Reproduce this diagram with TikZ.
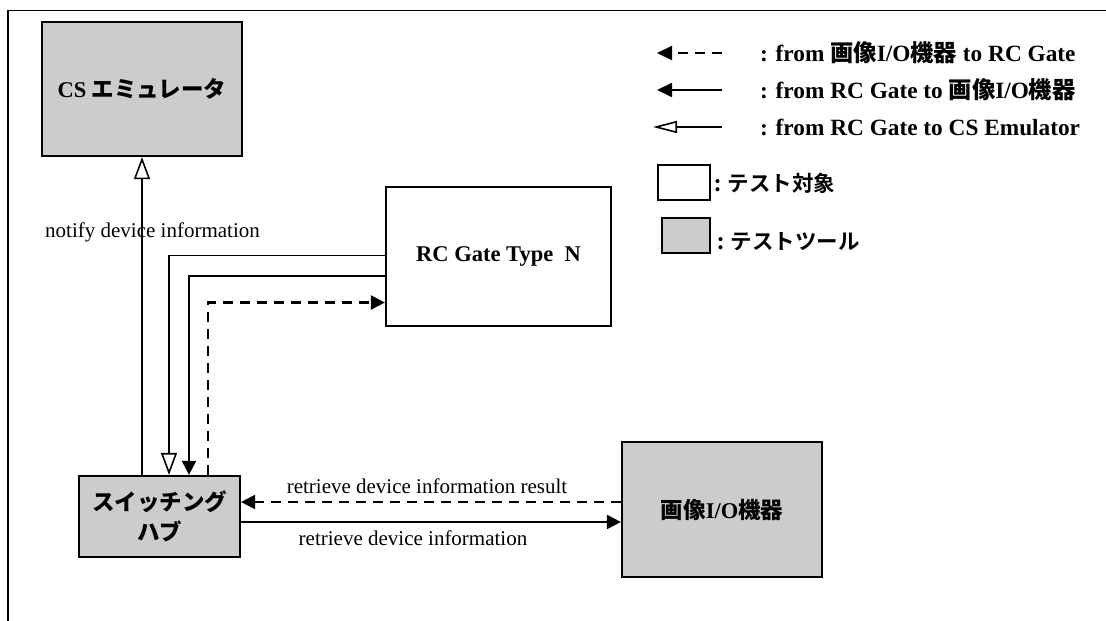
\documentclass[tikz,border=0pt]{standalone}
\usepackage{fontspec}
\setmainfont{Liberation Serif}
\newfontfamily\jpfont{Noto Sans CJK JP Bold}
\usetikzlibrary{arrows.meta,calc}
\newcommand{\jp}[1]{{\jpfont #1}}
\definecolor{boxgray}{HTML}{CCCCCC}
\begin{document}
\begin{tikzpicture}[x=1pt,y=-1pt,
  box/.style={draw=black,line width=2.2pt,rectangle,inner sep=0pt,align=center,font=\fontsize{22.5}{28}\selectfont\bfseries},
  tool/.style={box,fill=boxgray},
  conn/.style={line width=1.8pt},
  dsh/.style={line width=2.2pt,dash pattern=on 10pt off 7pt},
  filltip/.style={-{Triangle[length=14pt,width=14pt]}},
  opentip/.style={-{Triangle[open,length=22pt,width=16pt,line width=1.6pt]}},
  lbl/.style={font=\fontsize{21}{25}\selectfont,inner sep=0pt},
  leg/.style={font=\fontsize{23.3}{27}\selectfont\bfseries,inner sep=0pt,anchor=west}]
\useasboundingbox (0,0) rectangle (1106,621);
% frame
\draw[line width=1.8pt] (8,621) -- (8,10.5) -- (1106,10.5);
% nodes
\node[tool,minimum width=200pt,minimum height=134pt] (cs) at (142,89) {CS \jp{エミュレータ}};
\node[box,minimum width=225pt,minimum height=139pt] (rc) at (498.5,256.5) {RC Gate Type\ \ N};
\node[tool,minimum width=161pt,minimum height=81pt] (hub) at (159.5,516.5) {\jp{スイッチング}\\[2pt]\jp{ハブ}};
\node[tool,minimum width=200pt,minimum height=135pt] (io) at (722,509.5) {\jp{画像}I/O\jp{機器}};
% connectors
\draw[conn,opentip] ([xshift=-17.5pt]hub.north) -- (cs.south);
\node[lbl] (nlab) at (152.5,232) {notify device information};
\draw[conn,opentip] ([yshift=1pt]rc.west) -| ([xshift=9.5pt]hub.north);
\draw[conn,filltip] ([yshift=-19.5pt]rc.west) -| ([xshift=29.5pt]hub.north);
\draw[dsh,filltip] ([xshift=48.5pt]hub.north) |- ([yshift=-46pt]rc.west);
\draw[dsh,filltip] ([yshift=7.5pt]io.west) -- ([yshift=14.5pt]hub.east);
\draw[conn,filltip] ([yshift=-5.5pt]hub.east) -- ([yshift=-12.5pt]io.west);
\node[lbl] (rlab1) at (427,486) {retrieve device information result};
\node[lbl] (rlab2) at (413,538) {retrieve device information};
% legend
\coordinate (l1a) at (657,53); \coordinate (l1b) at (722,53);
\coordinate (l2a) at (657,90); \coordinate (l2b) at (722,90);
\coordinate (l3a) at (653,127); \coordinate (l3b) at (722,127);
\draw[dsh,-{Triangle[length=15pt,width=14pt]}] (l1b) -- (l1a);
\draw[conn,-{Triangle[length=15pt,width=14pt]}] (l2b) -- (l2a);
\draw[conn,-{Triangle[open,length=24pt,width=12pt,line width=1.6pt]}] (l3b) -- (l3a);
\node[leg] (t1) at (760,53) {: from \jp{画像}I/O\jp{機器} to RC Gate};
\node[leg] (t2) at (760,90) {: from RC Gate to \jp{画像}I/O\jp{機器}};
\node[leg] (t3) at (760,127) {: from RC Gate to CS Emulator};
\node[draw,line width=1.6pt,minimum width=52pt,minimum height=35pt,inner sep=0pt] (lw) at (684,182.5) {};
\node[draw,line width=1.6pt,fill=boxgray,minimum width=48pt,minimum height=35pt,inner sep=0pt] (lg) at (686,235.5) {};
\node[leg,font=\fontsize{21.5}{25}\selectfont] (t4) at (714,183) {\jp{: テスト対象}};
\node[leg,font=\fontsize{21.5}{25}\selectfont] (t5) at (717,242) {\jp{: テストツール}};
\end{tikzpicture}
\end{document}
